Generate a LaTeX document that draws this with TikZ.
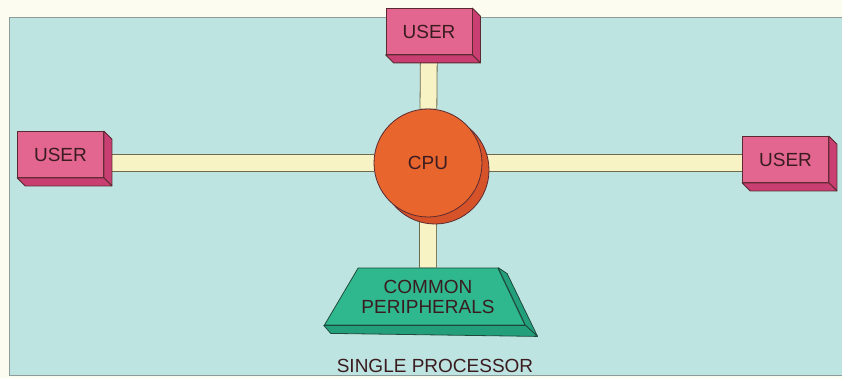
\documentclass[tikz,border=0pt]{standalone}
\usepackage{fontspec}
\setmainfont{Liberation Sans}
\usepackage{xcolor}
\usepackage{tikz}
\usetikzlibrary{shapes.geometric,shadows}

\definecolor{paper}{HTML}{FDFCF0}
\definecolor{panel}{HTML}{BEE4E1}
\definecolor{panelline}{HTML}{8C9C9A}
\definecolor{inkline}{HTML}{5A2A30}
\definecolor{inktext}{HTML}{3A1C20}
\definecolor{userfront}{HTML}{E2668F}
\definecolor{userside}{HTML}{C93F72}
\definecolor{cpufill}{HTML}{E8662E}
\definecolor{cpushade}{HTML}{D6532A}
\definecolor{barfill}{HTML}{F8F3C4}
\definecolor{barline}{HTML}{6E6A50}
\definecolor{perfront}{HTML}{2FB78E}
\definecolor{perside}{HTML}{23A07B}
\definecolor{perline}{HTML}{1F4A3B}

\pgfdeclarelayer{back}
\pgfdeclarelayer{bars}
\pgfsetlayers{back,bars,main}

\begin{document}
\begin{tikzpicture}[
    x=1pt, y=1pt,
    label/.style={
        text=inktext,
        align=center,
        font=\fontsize{19}{20}\selectfont
    },
    userbox/.style={
        label,
        draw=inkline,
        fill=userfront,
        line width=0.8pt,
        minimum width=86pt,
        minimum height=46pt
    },
    userface/.style={draw=inkline, fill=userside, line width=0.8pt, line join=round},
    cpubox/.style={
        label,
        circle,
        draw=inkline,
        fill=cpufill,
        line width=0.8pt,
        minimum size=108pt,
        general shadow={shadow xshift=7pt, shadow yshift=-7pt, fill=cpushade, draw=inkline, line width=0.8pt}
    },
    perbox/.style={
        label,
        trapezium,
        trapezium left angle=50,
        trapezium right angle=56,
        trapezium stretches=true,
        draw=perline,
        fill=perfront,
        line width=0.8pt,
        minimum width=196pt,
        minimum height=57pt
    },
    perface/.style={draw=perline, fill=perside, line width=0.8pt, line join=round},
    bar/.style={draw=barline, line width=0.8pt, double=barfill, double distance=16pt}
]
\useasboundingbox (0,0) rectangle (842,378);
\begin{pgfonlayer}{back}
\fill[paper] (0,0) rectangle (842,378);
\draw[fill=panel, draw=panelline, line width=0.8pt] (9,3) rectangle (842,361);
\end{pgfonlayer}

\node[cpubox] (cpu) at (428,215) {CPU};
\node[userbox] (utop) at (429,346.5) {USER};
\node[userbox] (uleft) at (60.5,223.5) {USER};
\node[userbox] (uright) at (785.5,218.5) {USER};
\node[perbox] (periph) at (428,81.5) {COMMON\\PERIPHERALS};
\node[label] (title) at (435,12) {SINGLE PROCESSOR};

% box depth
\foreach \n in {utop,uleft,uright} {
    \draw[userface] (\n.north east) -- ++(8pt,-8pt) -- ([shift={(8pt,-8pt)}]\n.south east) -- (\n.south east) -- cycle;
    \draw[userface] (\n.south west) -- ++(8pt,-8pt) -- ([shift={(8pt,-8pt)}]\n.south east) -- (\n.south east) -- cycle;
}
\draw[perface] (periph.top right corner) -- ++(9pt,-6pt) -- ([shift={(12pt,-11pt)}]periph.bottom right corner) -- (periph.bottom right corner) -- cycle;
\draw[perface] (periph.bottom left corner) -- ++(7pt,-8pt) -- ([shift={(12pt,-11pt)}]periph.bottom right corner) -- (periph.bottom right corner) -- cycle;

\begin{pgfonlayer}{bars}
\draw[bar] (uleft |- cpu) -- (cpu);
\draw[bar] (cpu) -- (cpu -| uright);
\draw[bar] (cpu) -- (utop);
\draw[bar] (cpu) -- (periph);
\end{pgfonlayer}
\end{tikzpicture}
\end{document}
